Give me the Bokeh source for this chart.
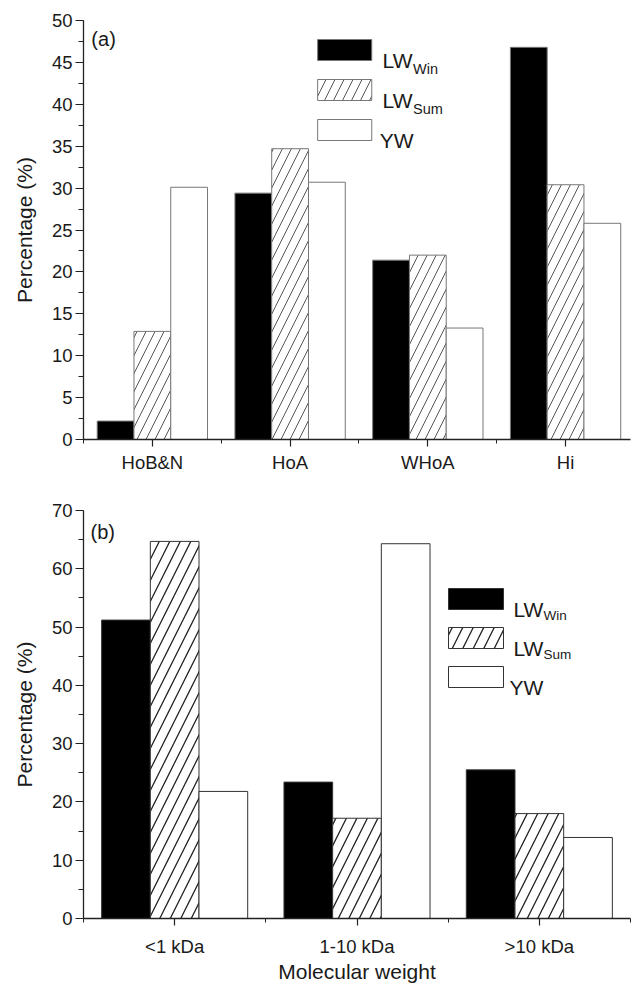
import numpy as np
from bokeh.plotting import figure
from bokeh.models import FixedTicker, Label, ColumnDataSource, Range1d
from bokeh.layouts import column
from bokeh.embed import file_html
from bokeh.resources import INLINE
from bokeh.transform import dodge

# ---------------- data ----------------
cats_a = ["HoB&N", "HoA", "WHoA", "Hi"]
lw_win_a = [2.2, 29.4, 21.4, 46.8]
lw_sum_a = [12.9, 34.7, 22.0, 30.4]
yw_a = [30.1, 30.7, 13.3, 25.8]

cats_b = ["<1 kDa", "1-10 kDa", ">10 kDa"]
lw_win_b = [51.2, 23.4, 25.5]
lw_sum_b = [64.7, 17.2, 18.0]
yw_b = [21.8, 64.3, 13.9]

series_names = ["LW", "LW", "YW"]
series_subs = ["Win", "Sum", ""]

FONT = "Liberation Sans"
TXT = "#1a1a1a"
BAR_W = 0.267


def style_axes(p, xticks, xminor, labels, yticks, yminor):
    p.outline_line_color = None
    p.grid.visible = False
    for ax in (p.xaxis[0], p.yaxis[0]):
        ax.axis_line_color = "#222222"
        ax.axis_line_width = 1.3
        ax.major_tick_line_color = "#222222"
        ax.minor_tick_line_color = "#222222"
        ax.major_tick_line_width = 1.2
        ax.minor_tick_line_width = 1.0
        ax.major_tick_in = 0
        ax.minor_tick_in = 0
        ax.major_label_text_font = FONT
        ax.major_label_text_color = TXT
        ax.major_label_text_font_size = "18.5px"
        ax.axis_label_text_font = FONT
        ax.axis_label_text_color = TXT
        ax.axis_label_text_font_style = "normal"
        ax.axis_label_text_font_size = "21px"
    p.xaxis.ticker = FixedTicker(ticks=xticks, minor_ticks=xminor)
    p.xaxis.major_label_overrides = {t: l for t, l in zip(xticks, labels)}
    p.yaxis.ticker = FixedTicker(ticks=yticks, minor_ticks=yminor)
    p.yaxis.major_tick_out = 8
    p.yaxis.minor_tick_out = 5
    p.xaxis.major_tick_out = 7
    p.xaxis.minor_tick_out = 4


def draw_bars(p, cats, s1, s2, s3, outline, hatch_scale, hatch_weight, hatch_color):
    src = ColumnDataSource(dict(x=list(range(1, len(cats) + 1)), a=s1, b=s2, c=s3))
    p.vbar(x=dodge("x", -BAR_W, range=p.x_range), top="a", width=BAR_W, source=src,
           fill_color="black", line_color=outline, line_width=1)
    p.vbar(x=dodge("x", 0, range=p.x_range), top="b", width=BAR_W, source=src,
           fill_color="white", line_color=outline, line_width=1,
           hatch_pattern="/", hatch_color=hatch_color, hatch_scale=hatch_scale,
           hatch_weight=hatch_weight)
    p.vbar(x=dodge("x", BAR_W, range=p.x_range), top="c", width=BAR_W, source=src,
           fill_color="white", line_color=outline, line_width=1)


def draw_legend(p, fx, fy, left, right, tops, h, txt_x, yw_x, sub_x, sub_dy,
                outline, hatch_scale, hatch_weight, hatch_color, fs, sfs):
    styles = [dict(fill_color="black"),
              dict(fill_color="white", hatch_pattern="/", hatch_color=hatch_color,
                   hatch_scale=hatch_scale, hatch_weight=hatch_weight),
              dict(fill_color="white")]
    for i, st in enumerate(styles):
        t = tops[i]
        p.quad(left=[fx(left)], right=[fx(right)], top=[fy(t)], bottom=[fy(t + h)],
               line_color=outline, line_width=1, **st)
        tx = txt_x if series_subs[i] else yw_x
        p.add_layout(Label(x=fx(tx), y=fy(t + h), text=series_names[i],
                           text_font=FONT, text_font_size=fs, text_color=TXT,
                           text_baseline="alphabetic"))
        if series_subs[i]:
            p.add_layout(Label(x=fx(sub_x), y=fy(t + h + sub_dy), text=series_subs[i],
                               text_font=FONT, text_font_size=sfs, text_color=TXT,
                               text_baseline="alphabetic"))


# ---------------- panel (a) ----------------
# frame: page x 82..638, page y 20..439
def xa(px):
    return 0.5 + (px - 82) / 140.0


def ya(py):
    return (439 - py) * 50.0 / 419.0


pa = figure(width=638, height=490, x_range=Range1d(0.5, xa(638)), y_range=Range1d(0, 50),
            output_backend="svg", toolbar_location=None,
            min_border_left=82, min_border_right=0, min_border_top=20, min_border_bottom=51)
style_axes(pa, [1, 2, 3, 4], [0.5, 1.5, 2.5, 3.5, 4.5], cats_a,
           list(range(0, 51, 5)), list(np.arange(0, 50.01, 2.5)))
pa.yaxis.axis_label = "Percentage (%)"
pa.yaxis.axis_label_standoff = 13
pa.yaxis.major_label_standoff = 3
pa.xaxis.major_label_standoff = 5

draw_bars(pa, cats_a, lw_win_a, lw_sum_a, yw_a, "#777777", 18, 1.0, "#555555")
draw_legend(pa, xa, ya, 320, 375, [39, 79, 119], 21, 386, 383, 417, 8,
            "#777777", 18, 1.0, "#555555", "21px", "14.5px")
pa.add_layout(Label(x=xa(90), y=ya(38.5), text="(a)", text_font=FONT,
                    text_font_size="20px", text_color=TXT, text_baseline="alphabetic"))

# ---------------- panel (b) ----------------
# frame: page x 83..630, page y 510..918
def xb(px):
    return 0.5 + (px - 83) * 3.0 / 547.0


def yb(py):
    return (918 - py) * 70.0 / 408.0


pb = figure(width=638, height=496, x_range=Range1d(0.5, 3.5), y_range=Range1d(0, 70),
            output_backend="svg", toolbar_location=None,
            min_border_left=83, min_border_right=8, min_border_top=20, min_border_bottom=68)
style_axes(pb, [1, 2, 3], [0.5, 1.5, 2.5, 3.5], cats_b,
           list(range(0, 71, 10)), list(range(0, 71, 5)))
pb.yaxis.axis_label = "Percentage (%)"
pb.xaxis.axis_label = "Molecular weight"
pb.yaxis.axis_label_standoff = 13
pb.xaxis.axis_label_standoff = 0
pb.yaxis.major_label_standoff = 3
pb.xaxis.major_label_standoff = 10

draw_bars(pb, cats_b, lw_win_b, lw_sum_b, yw_b, "#333333", 21, 1.3, "#222222")
draw_legend(pb, xb, yb, 448, 503, [588, 627, 666], 21, 513, 509, 543, 6,
            "#333333", 21, 1.3, "#222222", "21px", "13.5px")
pb.add_layout(Label(x=xb(90), y=yb(531), text="(b)", text_font=FONT,
                    text_font_size="20px", text_color=TXT, text_baseline="alphabetic"))

layout = column(pa, pb, spacing=0)
open("out.html", "w").write(file_html(layout, INLINE))
